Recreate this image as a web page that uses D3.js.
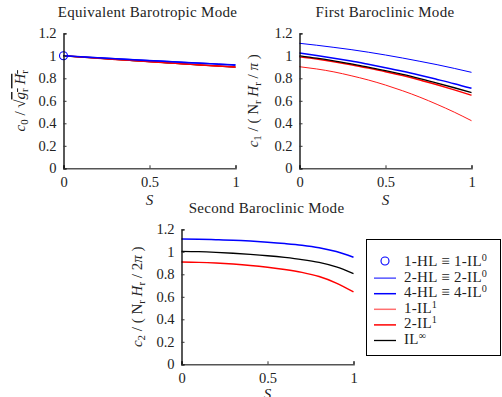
<!DOCTYPE html>
<html><head><meta charset="utf-8">
<script src="https://cdn.jsdelivr.net/npm/d3@7"></script>
<style>
html,body{margin:0;padding:0;background:#fff;}
svg text{font-family:"Liberation Serif","Times New Roman",serif;fill:#222;}
</style></head>
<body><svg id="c" width="502" height="397"></svg>
<script>
// ---------- data ----------
const S = [0, 0.1, 0.2, 0.3, 0.4, 0.5, 0.6, 0.7, 0.8, 0.9, 1.0];
const xTicks = [0, 0.5, 1];
const yTicks = [0, 0.2, 0.4, 0.6, 0.8, 1, 1.2];
const titles = ["Equivalent Barotropic Mode", "First Baroclinic Mode", "Second Baroclinic Mode"];
const seriesNames = ["1-HL", "2-HL", "4-HL", "1-IL1", "2-IL1", "ILinf"];

// Equivalent barotropic mode
const m0_2HL   = [1.000, 0.992, 0.984, 0.976, 0.968, 0.960, 0.952, 0.944, 0.936, 0.928, 0.921];
const m0_4HL   = [1.000, 0.991, 0.982, 0.974, 0.965, 0.957, 0.949, 0.941, 0.933, 0.925, 0.917];
const m0_1IL1  = [1.000, 0.989, 0.979, 0.968, 0.958, 0.948, 0.938, 0.928, 0.918, 0.908, 0.899];
const m0_2IL1  = [1.000, 0.989, 0.979, 0.968, 0.958, 0.948, 0.938, 0.928, 0.918, 0.909, 0.900];
const m0_ILinf = [1.000, 0.989, 0.979, 0.968, 0.958, 0.948, 0.938, 0.928, 0.918, 0.909, 0.900];
const m0_1HL   = [1.000]; // single point at S = 0

// First baroclinic mode
const m1_2HL   = [1.111, 1.094, 1.075, 1.055, 1.032, 1.007, 0.980, 0.951, 0.921, 0.888, 0.853];
const m1_4HL   = [1.025, 1.003, 0.979, 0.953, 0.924, 0.894, 0.862, 0.827, 0.790, 0.752, 0.711];
const m1_1IL1  = [0.903, 0.883, 0.857, 0.823, 0.785, 0.740, 0.689, 0.632, 0.568, 0.499, 0.423];
const m1_2IL1  = [0.992, 0.972, 0.948, 0.921, 0.891, 0.859, 0.824, 0.785, 0.742, 0.697, 0.649];
const m1_ILinf = [1.000, 0.979, 0.955, 0.928, 0.900, 0.868, 0.834, 0.797, 0.758, 0.716, 0.672];

// Second baroclinic mode
const m2_4HL   = [1.114, 1.112, 1.108, 1.103, 1.095, 1.085, 1.073, 1.058, 1.036, 1.002, 0.951];
const m2_2IL1  = [0.909, 0.906, 0.900, 0.891, 0.879, 0.863, 0.843, 0.817, 0.780, 0.722, 0.643];
const m2_ILinf = [1.004, 1.001, 0.995, 0.987, 0.977, 0.965, 0.950, 0.931, 0.905, 0.865, 0.806];

// ---------- styles ----------
const style = {
  "2-HL":  {color:"#0000ff", w:1.0},
  "4-HL":  {color:"#0000ff", w:1.5},
  "1-IL1": {color:"#ff1a1a", w:1.0},
  "2-IL1": {color:"#ff0000", w:1.5},
  "ILinf": {color:"#000000", w:1.3}
};

const panels = [
  {x0:63.5, x1:235.5, yb:168.3, yt:33.3, title:titles[0], tx:147.5, ty:17,
   lines:[["ILinf",m0_ILinf],["1-IL1",m0_1IL1],["2-IL1",m0_2IL1],["2-HL",m0_2HL],["4-HL",m0_4HL]],
   point:m0_1HL, labX:25,
   label:[{t:"c",i:1},{t:"0",sub:1},{t:"  /  √"},{t:"g",i:1,ov:1},{t:"r",sub:1,ov:1},{t:" H",i:1,ov:1},{t:"r",sub:1,ov:1}]},
  {x0:299.5, x1:471.5, yb:168.3, yt:33.3, title:titles[1], tx:385, ty:17,
   lines:[["1-IL1",m1_1IL1],["2-IL1",m1_2IL1],["ILinf",m1_ILinf],["2-HL",m1_2HL],["4-HL",m1_4HL]],
   labX:258,
   label:[{t:"c",i:1},{t:"1",sub:1},{t:" / ( N"},{t:"r",sub:1},{t:" H",i:1},{t:"r",sub:1},{t:" / "},{t:"π",i:1},{t:" )"}]},
  {x0:181.5, x1:353.5, yb:364.3, yt:229.3, title:titles[2], tx:266.5, ty:213,
   lines:[["2-IL1",m2_2IL1],["ILinf",m2_ILinf],["4-HL",m2_4HL]],
   labX:142,
   label:[{t:"c",i:1},{t:"2",sub:1},{t:" / ( N"},{t:"r",sub:1},{t:" H",i:1},{t:"r",sub:1},{t:" / 2"},{t:"π",i:1},{t:" )"}]}
];

const svg = d3.select("#c");
const FS = 14, TFS = 15;

function richText(sel, segs, fs){
  let shifted = 0;
  segs.forEach(s=>{
    const ts = sel.append("tspan").text(s.t);
    if (s.i) ts.style("font-style","italic");
    if (s.ov) ts.style("text-decoration","overline");
    if (s.sub){ ts.attr("font-size", fs*0.72).attr("dy", 3 - shifted); shifted = 3; }
    else if (s.sup){ ts.attr("font-size", fs*0.68).attr("dy", -5 - shifted); shifted = -5; }
    else if (shifted){ ts.attr("dy", -shifted); shifted = 0; }
  });
}

panels.forEach(p=>{
  const x = d3.scaleLinear().domain([0,1]).range([p.x0, p.x1]);
  const y = d3.scaleLinear().domain([0,1.2]).range([p.yb, p.yt]);
  const g = svg.append("g");

  // lines
  const line = d3.line().x((d,i)=>x(S[i])).y(d=>y(d)).curve(d3.curveMonotoneX);
  p.lines.forEach(([name, vals])=>{
    g.append("path").datum(vals).attr("d", line).attr("fill","none")
      .attr("stroke", style[name].color).attr("stroke-width", style[name].w)
      .attr("stroke-linejoin","round");
  });
  if (p.point){
    g.selectAll("circle.pt").data(p.point).enter().append("circle")
      .attr("cx",(d,i)=>x(S[i])).attr("cy",d=>y(d)).attr("r",4)
      .attr("fill","none").attr("stroke","#0000ff").attr("stroke-width",1.1);
  }

  // axes
  const ax = g.append("g").attr("transform",`translate(0,${p.yb})`)
    .call(d3.axisBottom(x).tickValues(xTicks).tickSize(-3).tickPadding(5).tickFormat(d3.format("")));
  ax.select(".domain").attr("stroke","#555").attr("stroke-width",1.6);
  ax.selectAll(".tick line").attr("stroke","#333");
  ax.selectAll("text").attr("font-size",FS+0.5).attr("fill","#222").attr("font-family","Liberation Serif").attr("dy","0.95em");
  const ay = g.append("g").attr("transform",`translate(${p.x0},0)`)
    .call(d3.axisLeft(y).tickValues(yTicks).tickSize(-3).tickPadding(7).tickFormat(d=>d3.format("")(+d.toFixed(1))));
  ay.select(".domain").attr("stroke","#000").attr("stroke-width",1.3);
  ay.selectAll(".tick line").attr("stroke","#333");
  ay.selectAll("text").attr("font-size",FS+0.5).attr("fill","#222").attr("font-family","Liberation Serif");

  // title
  g.append("text").attr("x",p.tx).attr("y",p.ty).attr("text-anchor","middle")
    .attr("font-size",TFS).attr("letter-spacing",0.3).text(p.title);
  // x label
  g.append("text").attr("x",(p.x0+p.x1)/2).attr("y",Math.min(p.yb+37, 399)).attr("text-anchor","middle")
    .attr("font-size",TFS).style("font-style","italic").text("S");
  // y label
  const yl = g.append("text").attr("text-anchor","middle").attr("font-size",TFS)
    .attr("transform",`translate(${p.labX},${(p.yb+p.yt)/2}) rotate(-90)`);
  richText(yl, p.label, TFS);
});

// ---------- legend ----------
const legendItems = [
  {name:"1-HL", segs:[{t:"1-HL ≡ 1-IL"},{t:"0",sup:1}], marker:true},
  {name:"2-HL", segs:[{t:"2-HL ≡ 2-IL"},{t:"0",sup:1}]},
  {name:"4-HL", segs:[{t:"4-HL ≡ 4-IL"},{t:"0",sup:1}]},
  {name:"1-IL1", segs:[{t:"1-IL"},{t:"1",sup:1}]},
  {name:"2-IL1", segs:[{t:"2-IL"},{t:"1",sup:1}]},
  {name:"ILinf", segs:[{t:"IL"},{t:"∞",sup:1}]}
];
const lg = svg.append("g");
lg.append("rect").attr("x",366.5).attr("y",239.5).attr("width",134).attr("height",116)
  .attr("fill","#fff").attr("stroke","#000").attr("stroke-width",1);
const ly = d3.scalePoint().domain(legendItems.map(d=>d.name)).range([261,339]);
legendItems.forEach(it=>{
  const yy = ly(it.name);
  if (it.marker){
    lg.append("circle").attr("cx",385).attr("cy",yy).attr("r",4)
      .attr("fill","none").attr("stroke","#0000ff").attr("stroke-width",1.1);
  } else {
    const st = it.name==="1-IL1" ? {color:"#ff7070", w:1.5} : style[it.name];
    lg.append("line").attr("x1",374).attr("x2",396).attr("y1",yy+1.5).attr("y2",yy+1.5)
      .attr("stroke",st.color).attr("stroke-width",st.w);
  }
  const t = lg.append("text").attr("x",404).attr("y",yy+5).attr("font-size",TFS).attr("letter-spacing",0.3);
  richText(t, it.segs, TFS);
});
</script></body></html>
